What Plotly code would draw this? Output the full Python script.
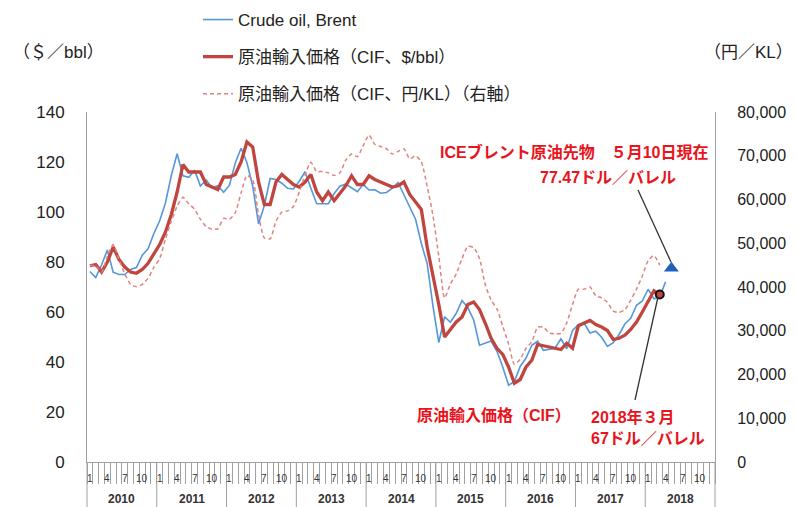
import plotly.graph_objects as go

# ---------------- data ----------------
years = [2010, 2011, 2012, 2013, 2014, 2015, 2016, 2017, 2018]
month_labels = ["1", "4", "7", "10"]

# Crude oil, Brent ($/bbl) Jan 2010 - Apr 2018
brent = [
    76.2, 73.8, 78.8, 84.8, 75.9, 75.0, 75.0, 77.0, 77.8, 82.7, 85.3, 91.4,
    96.5, 103.7, 114.6, 123.3, 114.5, 113.9, 116.7, 110.4, 112.8, 109.6, 110.5, 107.9,
    110.7, 119.6, 125.5, 119.8, 110.3, 95.2, 102.6, 113.4, 113.0, 111.5, 109.5, 109.2,
    112.3, 116.1, 109.5, 103.3, 103.3, 103.3, 107.4, 110.3, 111.2, 109.5, 108.1, 111.0,
    108.8, 108.9, 107.5, 107.8, 109.5, 111.8, 106.8, 101.6, 97.1, 87.4, 79.4, 62.3,
    47.8, 58.1, 55.9, 59.5, 64.6, 61.7, 56.8, 46.7, 47.6, 48.4, 44.3, 38.0,
    30.7, 32.2, 38.2, 41.6, 46.7, 48.3, 44.7, 45.0, 45.5, 49.3, 45.3, 52.6,
    54.9, 55.5, 51.6, 52.3, 49.9, 46.2, 47.7, 51.0, 55.2, 57.5, 62.7, 64.4,
    69.1, 65.3, 66.0, 72.1,
]

# 原油輸入価格 (CIF, $/bbl) Jan 2010 - Mar 2018
cif_usd = [
    78.5, 79, 76, 80, 86, 81, 78, 76, 75.5, 77, 79.5, 83,
    87, 92, 99, 108, 119, 116, 116, 116, 111, 110, 109, 114,
    114, 115, 120, 128, 126, 112, 103, 103, 112, 115, 113, 111,
    110, 112, 115, 108, 104.5, 108, 104.5, 107.5, 110.5, 114.5, 111, 111,
    114.5, 113, 112, 111, 110, 110.5, 112, 107, 104, 101, 86, 75,
    63, 50, 53, 56, 58, 63, 64, 61, 55.5, 49.5, 45.5, 43,
    38, 31.5, 33, 38, 40.7, 47, 46.5, 46, 45.5, 45, 47.5, 45.5,
    54.5, 55.5, 56.6, 55, 54, 52.6, 49, 49.5, 50.7, 53, 56, 60,
    64.5, 68.5, 67,
]

# 原油輸入価格 (CIF, 円/KL) Jan 2010 - Mar 2018
cif_jpy = [
    45000, 44800, 43400, 47000, 49700, 46300, 43000, 40600, 40100, 40600, 42000, 44500,
    46500, 51000, 55000, 58500, 60500, 59000, 57800, 55500, 53800, 53200, 53300, 55700,
    55500, 57000, 61500, 65500, 64500, 56500, 51200, 51000, 55000, 57100, 57400, 58400,
    61700, 65600, 68500, 66400, 66400, 66100, 65500, 66100, 69000, 70400, 69800, 72300,
    74700, 72600, 72100, 71600, 70400, 71000, 71600, 69300, 70000, 68600, 63000, 56300,
    47000, 37500, 40700, 43000, 46500, 49300, 49000, 46500, 40500, 37000, 35000, 31000,
    27000, 22300, 23500, 26000, 27500, 30800, 30800, 29500, 29300, 29400, 31800, 36000,
    39500, 39500, 40000, 38000, 37500, 36500, 34500, 34200, 34800, 37000, 39500, 42500,
    46000, 47200, 45000,
]

futures_value = 77.47   # ICE Brent futures, 10 May 2018
futures_month = 100     # May 2018 (index from Jan 2010)
cif_mar_value = 67      # March 2018
cif_mar_month = 98

n_months = 12 * len(years)

# ---------------- figure ----------------
OFF = 8                      # page body margin
W, H = 798 - OFF, 507 - OFF
L, R, T, B = 87 - OFF, 83, 112 - OFF, 45
PW, PH = W - L - R, H - T - B

def px(xs):   # screen x -> paper
    return (xs - OFF - L) / PW

def py(ys):   # screen y -> paper
    return (OFF + H - B - ys) / PH

FONT = "Liberation Sans, Noto Sans CJK JP, sans-serif"
RED_TXT = "#e8141c"

fig = go.Figure()

fig.add_trace(go.Scatter(
    x=list(range(len(cif_jpy))), y=cif_jpy, mode="lines", yaxis="y2",
    name="原油輸入価格（CIF、円/KL）（右軸）", legendrank=3, legendgroup="c",
    line=dict(color="#e0837e", width=1.5, dash="4px,3px", shape="spline", smoothing=0.6),
))
fig.add_trace(go.Scatter(
    x=list(range(len(brent))), y=brent, mode="lines",
    name="Crude oil, Brent", legendrank=1, legendgroup="a",
    line=dict(color="#5597d9", width=1.6),
))
fig.add_trace(go.Scatter(
    x=list(range(len(cif_usd))), y=cif_usd, mode="lines",
    name="原油輸入価格（CIF、$/bbl）", legendrank=2, legendgroup="b",
    line=dict(color="#c0453f", width=3.3),
))
fig.add_trace(go.Scatter(
    x=[futures_month], y=[futures_value], mode="markers", showlegend=False,
    marker=dict(symbol="triangle-up", size=13, color="#1d62b8"),
))
fig.add_trace(go.Scatter(
    x=[cif_mar_month], y=[cif_mar_value], mode="markers", showlegend=False,
    marker=dict(symbol="circle", size=8, color="#c0453f",
                line=dict(color="#111111", width=2)),
))

shapes = []
# year dividers
for j in range(len(years) + 1):
    xp = j / len(years)
    shapes.append(dict(type="line", xref="paper", yref="paper",
                       x0=xp, x1=xp, y0=0, y1=-B / PH,
                       line=dict(color="#a0a0a0", width=1)))
# callout lines
shapes.append(dict(type="line", xref="paper", yref="paper",
                   x0=px(638), y0=py(190), x1=px(671), y1=py(262),
                   line=dict(color="#333333", width=1.3)))
shapes.append(dict(type="line", xref="paper", yref="paper",
                   x0=px(658), y0=py(297), x1=px(635), y1=py(400),
                   line=dict(color="#333333", width=1.3)))

annotations = []
for j, yr in enumerate(years):
    annotations.append(dict(xref="paper", yref="paper", x=(j + 0.5) / len(years),
                            y=py(499), xanchor="center", yanchor="middle",
                            text=f"<b>{yr}</b>", showarrow=False,
                            font=dict(size=12, color="#333333", family=FONT)))
    for k, ml in enumerate(month_labels):
        annotations.append(dict(xref="x", yref="paper", x=12 * j + 3 * k,
                                y=py(478), xanchor="center", yanchor="middle",
                                text=ml, showarrow=False,
                                font=dict(size=10, color="#333333", family=FONT)))

def note(xs, ys, text, size=16, color=RED_TXT, xanchor="center", align="center"):
    return dict(xref="paper", yref="paper", x=px(xs), y=py(ys), text=text,
                xanchor=xanchor, yanchor="middle", align=align, showarrow=False,
                font=dict(size=size, color=color, family=FONT))

annotations += [
    note(58, 53, "（＄／bbl）", size=17, color="#222222"),
    note(748, 53, "（円／KL）", size=17, color="#222222"),
    note(574, 152, "<b>ICEブレント原油先物　５月10日現在</b>"),
    note(608, 177, "<b>77.47ドル／バレル</b>"),
    note(415, 415, "<b>原油輸入価格（CIF）</b>", xanchor="left"),
    note(589, 427, "<b>2018年３月<br>67ドル／バレル</b>", xanchor="left", align="left"),
]

fig.update_layout(
    width=W, height=H,
    margin=dict(l=L, r=R, t=T, b=B, autoexpand=False),
    paper_bgcolor="white", plot_bgcolor="white",
    font=dict(family=FONT, color="#222222"),
    showlegend=True,
    legend=dict(x=px(198), y=py(2), xanchor="left", yanchor="top",
                font=dict(size=17, family=FONT, color="#222222"),
                bgcolor="rgba(0,0,0,0)", tracegroupgap=12, itemwidth=30,
                traceorder="grouped"),
    xaxis=dict(range=[-0.5, n_months - 0.5], showgrid=False, zeroline=False,
               showline=True, linecolor="#a0a0a0", linewidth=1,
               tickmode="array", tickvals=[k - 0.5 for k in range(n_months + 1)],
               ticks="outside", ticklen=21, tickcolor="#a0a0a0", tickwidth=1,
               showticklabels=False),
    yaxis=dict(range=[0, 140], tickvals=list(range(0, 141, 20)), showgrid=False,
               zeroline=False, showline=True, linecolor="#a0a0a0", linewidth=1,
               ticks="", ticklabelstandoff=18,
               tickfont=dict(size=17, family=FONT, color="#222222")),
    yaxis2=dict(range=[0, 80000], tickvals=list(range(0, 80001, 10000)),
                tickformat=",d", overlaying="y", side="right", showgrid=False,
                zeroline=False, showline=True, linecolor="#a0a0a0", linewidth=1,
                ticks="", ticklabelstandoff=18,
                tickfont=dict(size=16, family=FONT, color="#222222")),
    shapes=shapes,
    annotations=annotations,
)

fig.write_html("out.html")
